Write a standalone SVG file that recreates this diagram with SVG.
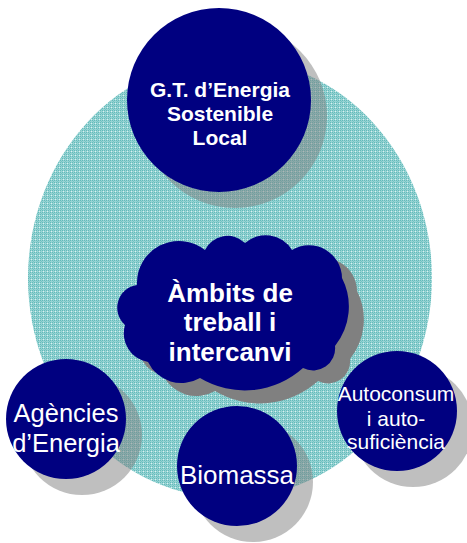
<svg xmlns="http://www.w3.org/2000/svg" xmlns:xlink="http://www.w3.org/1999/xlink" width="467" height="543" viewBox="0 0 467 543">
<style>
.node{fill:#000080}
.shadow{fill:#808080;fill-opacity:0.5}
.lb{font-family:"Liberation Sans",Arial,sans-serif;fill:#ffffff;text-anchor:middle;font-weight:bold}
.ln{font-family:"Liberation Sans",Arial,sans-serif;fill:#ffffff;text-anchor:middle}
</style>
<defs>
<pattern id="teal" width="4" height="4" patternUnits="userSpaceOnUse">
<rect width="4" height="4" fill="#96d3d3"/>
<rect x="0" y="0" width="1" height="1" fill="#63baba"/>
<rect x="2" y="0" width="1" height="1" fill="#63baba"/>
<rect x="0" y="2" width="1" height="1" fill="#63baba"/>
<rect x="2" y="2" width="1" height="1" fill="#63baba"/>
<rect x="1" y="1" width="1" height="1" fill="#76c4c4"/>
<rect x="3" y="3" width="1" height="1" fill="#ddf1f1"/>
</pattern>
<path id="cloudShape" d="M137,285 A42,42 0 0 1 205,250 A25,25 0 0 1 245,243 A31,31 0 0 1 292,250 A33,33 0 0 1 342,278 A63,63 0 0 1 335,346 A22,22 0 0 1 303,368 A87,87 0 0 1 200,378 A37,37 0 0 1 148,362 A29,29 0 0 1 125,325 A23,23 0 0 1 137,285 Z"/>
</defs>
<g id="background">
<ellipse cx="230" cy="278" rx="202" ry="220" fill="url(#teal)"/>
</g>
<g id="node-gt">
<circle class="shadow" cx="235" cy="116" r="92"/>
<circle class="node" cx="219" cy="100" r="92"/>
<text class="lb" font-size="21" x="220" y="97">G.T. d’Energia</text>
<text class="lb" font-size="21" x="220" y="121">Sostenible</text>
<text class="lb" font-size="21" x="220" y="145">Local</text>
</g>
<g id="node-ambits">
<use xlink:href="#cloudShape" fill="#808080" transform="translate(15,13)"/>
<use xlink:href="#cloudShape" fill="#000080"/>
<text class="lb" font-size="26" x="230" y="302">Àmbits de</text>
<text class="lb" font-size="26" x="230" y="331">treball i</text>
<text class="lb" font-size="26" x="230" y="361">intercanvi</text>
</g>
<g id="node-agencies">
<circle class="shadow" cx="82" cy="435" r="60"/>
<circle class="node" cx="66" cy="419" r="60"/>
<text class="ln" font-size="25.5" x="66" y="422">Agències</text>
<text class="ln" font-size="25.5" x="66" y="452">d’Energia</text>
</g>
<g id="node-biomassa">
<circle class="shadow" cx="253" cy="482" r="60"/>
<circle class="node" cx="237" cy="466" r="60"/>
<text class="ln" font-size="26" x="237" y="484">Biomassa</text>
</g>
<g id="node-autoconsum">
<circle class="shadow" cx="413" cy="427" r="60"/>
<circle class="node" cx="397" cy="411" r="60"/>
<text class="ln" font-size="21" x="396" y="401">Autoconsum</text>
<text class="ln" font-size="21" x="396" y="426">i auto-</text>
<text class="ln" font-size="21" x="396" y="449">suficiència</text>
</g>
</svg>
